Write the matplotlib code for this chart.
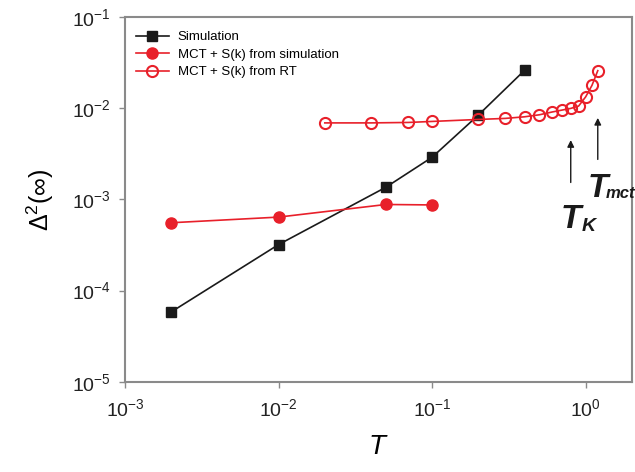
import matplotlib
matplotlib.use('Agg')
import matplotlib.pyplot as plt
from matplotlib.ticker import LogLocator, NullLocator

plt.rcParams['font.family'] = ['Liberation Sans', 'DejaVu Sans']
plt.rcParams['mathtext.fontset'] = 'custom'
plt.rcParams['mathtext.rm'] = 'Liberation Sans'
plt.rcParams['mathtext.it'] = 'Liberation Sans:italic'
plt.rcParams['mathtext.bf'] = 'Liberation Sans:bold'
plt.rcParams['axes.unicode_minus'] = False

# Simulation
T_sim = [0.002, 0.01, 0.05, 0.1, 0.2, 0.4]
D_sim = [5.85e-5, 3.2e-4, 1.36e-3, 2.9e-3, 8.4e-3, 2.6e-2]

# MCT + S(k) from simulation
T_mct_sim = [0.002, 0.01, 0.05, 0.1]
D_mct_sim = [5.55e-4, 6.4e-4, 8.8e-4, 8.7e-4]

# MCT + S(k) from RT
T_rt = [0.02, 0.04, 0.07, 0.1, 0.2, 0.3, 0.4, 0.5, 0.6, 0.7, 0.8, 0.9, 1.0, 1.1, 1.2]
D_rt = [6.9e-3, 6.9e-3, 6.98e-3, 7.16e-3, 7.53e-3, 7.73e-3, 8.05e-3, 8.47e-3,
        9.06e-3, 9.53e-3, 9.95e-3, 1.055e-2, 1.33e-2, 1.78e-2, 2.58e-2]

red = '#e8202a'
grey = '#8a8a8a'
dark = '#1a1a1a'

fig = plt.figure(figsize=(6.35, 4.72), dpi=100)
ax = fig.add_axes([0.197, 0.191, 0.798, 0.773])

ax.plot(T_sim, D_sim, '-s', color=dark, lw=1.2, ms=7, label='Simulation')
ax.plot(T_mct_sim, D_mct_sim, '-o', color=red, lw=1.2, ms=8, label='MCT + S(k) from simulation')
ax.plot(T_rt, D_rt, '-o', color=red, lw=1.2, ms=8, mfc='none', mew=1.5,
        label='MCT + S(k) from RT')

ax.set_xscale('log')
ax.set_yscale('log')
ax.set_xlim(1e-3, 2.0)
ax.set_ylim(1e-5, 1e-1)
ax.xaxis.set_major_locator(LogLocator(base=10, numticks=10))
ax.yaxis.set_major_locator(LogLocator(base=10, numticks=10))
ax.xaxis.set_minor_locator(NullLocator())
ax.yaxis.set_minor_locator(NullLocator())

for s in ax.spines.values():
    s.set_color(grey)
    s.set_linewidth(1.5)
ax.tick_params(axis='both', which='major', direction='out', length=4, width=1,
               color=grey, labelsize=14, labelcolor='#222222')
ax.tick_params(axis='x', pad=8)
ax.tick_params(axis='y', pad=6)

ax.set_xlabel('$T$', fontsize=20, labelpad=10)
ax.set_ylabel(r'$\Delta^{2}(\infty)$', fontsize=18, labelpad=12)

ax.legend(loc='upper left', frameon=False, fontsize=9.5, handlelength=2.5,
          handletextpad=0.7, labelspacing=0.4, borderaxespad=0.4,
          bbox_to_anchor=(0.0, 0.99))

# arrows marking T_K and T_mct
ax.annotate('', xy=(0.8, 4.8e-3), xytext=(0.8, 1.43e-3),
            arrowprops=dict(arrowstyle='-|>', color=dark, lw=1,
                            mutation_scale=10))
ax.annotate('', xy=(1.2, 8.4e-3), xytext=(1.2, 2.56e-3),
            arrowprops=dict(arrowstyle='-|>', color=dark, lw=1,
                            mutation_scale=10))
ax.text(0.860, 0.422, 'T', transform=ax.transAxes, fontsize=24,
        fontweight='bold', fontstyle='italic', color=dark)
ax.text(0.901, 0.414, 'K', transform=ax.transAxes, fontsize=14,
        fontweight='bold', fontstyle='italic', color=dark)
ax.text(0.913, 0.507, 'T', transform=ax.transAxes, fontsize=24,
        fontweight='bold', fontstyle='italic', color=dark)
ax.text(0.949, 0.504, 'mct', transform=ax.transAxes, fontsize=12,
        fontweight='bold', fontstyle='italic', color=dark)

fig.savefig('out.png', dpi=100)
